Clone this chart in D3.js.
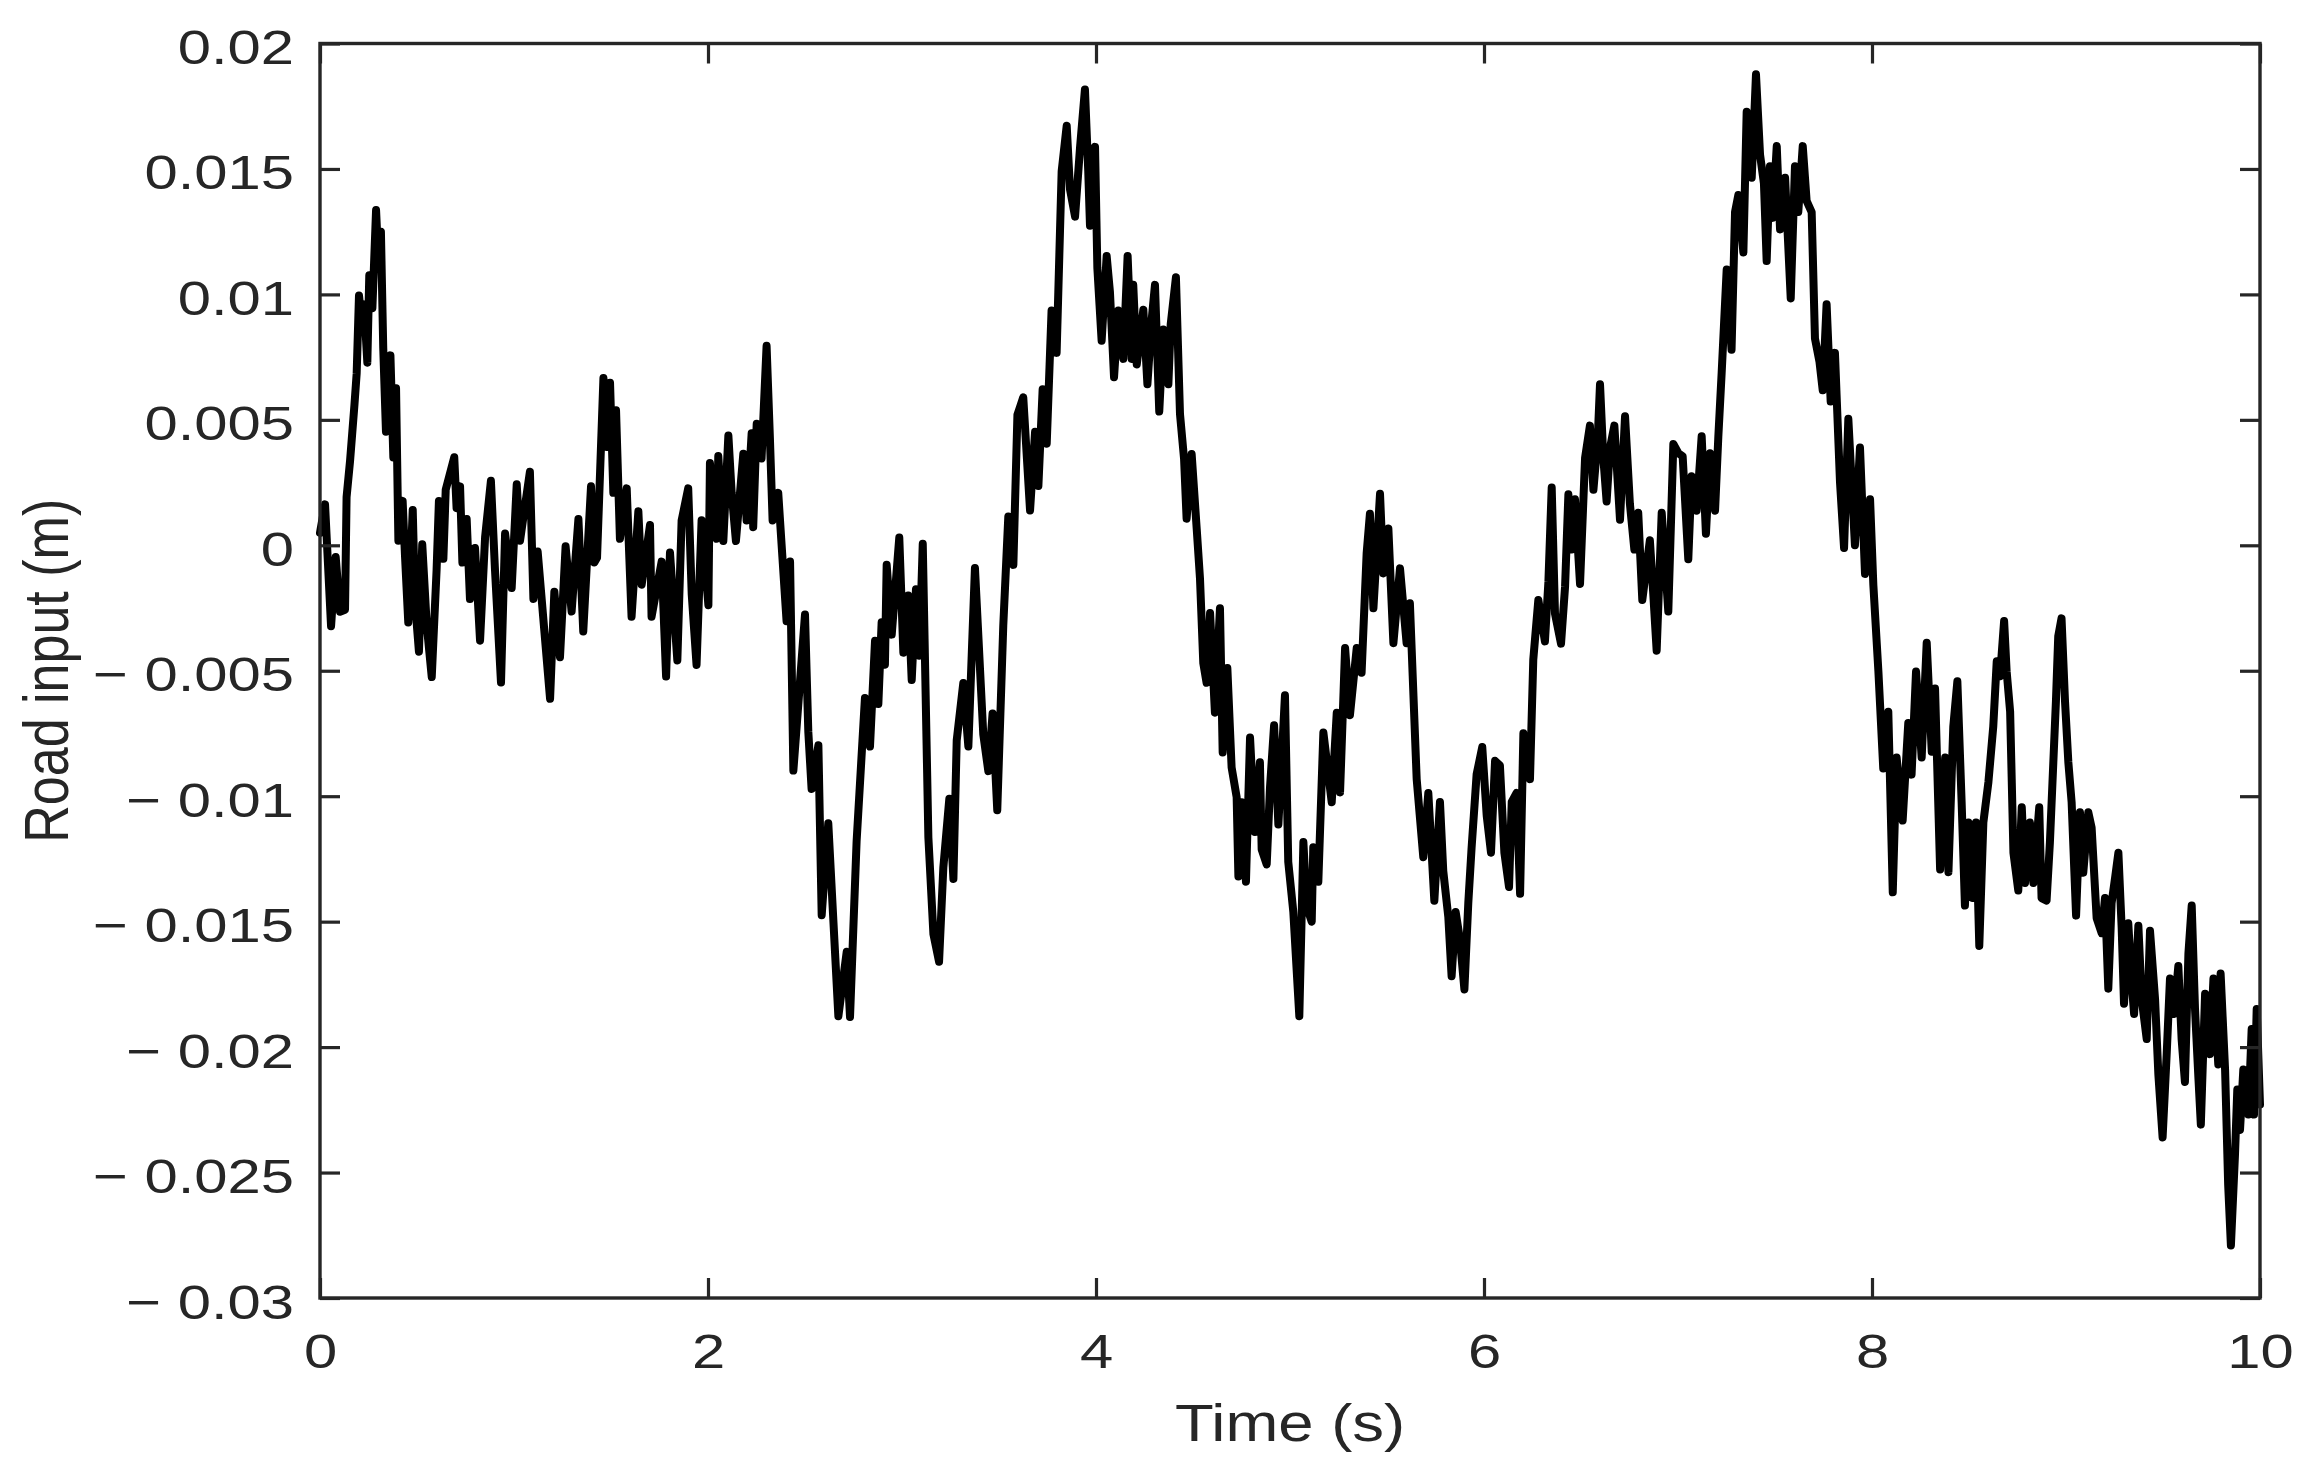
<!DOCTYPE html>
<html>
<head>
<meta charset="utf-8">
<script src="https://cdn.jsdelivr.net/npm/d3@7"></script>
<style>
  html, body { margin: 0; padding: 0; background: #fff; }
  svg { display: block; }
  text { font-family: "Liberation Sans", Arial, Helvetica, sans-serif; fill: #262626; }
</style>
</head>
<body>
<svg id="chart" width="2313" height="1470"></svg>
<script>
// ---- Data ----
const times = [
0.000,0.026,0.057,0.081,0.103,0.129,0.137,0.155,0.177,0.189,0.201,0.215,0.227,0.244,0.254,0.270,0.289,0.301,0.314,0.326,
0.340,0.363,0.378,0.392,0.404,0.426,0.438,0.455,0.478,0.490,0.510,0.527,0.550,0.576,0.601,0.613,0.636,0.648,0.692,0.704,
0.722,0.734,0.756,0.773,0.799,0.825,0.851,0.881,0.902,0.933,0.954,0.988,1.014,1.031,1.082,1.100,1.122,1.186,1.208,1.237,
1.266,1.297,1.332,1.357,1.397,1.414,1.428,
1.461,1.478,1.495,1.512,1.526,1.546,1.581,1.606,1.641,1.658,1.701,1.709,1.761,1.784,1.804,1.842,1.864,1.898,1.916,1.941,
1.967,2.002,2.010,2.045,2.053,2.079,2.105,2.122,2.144,2.182,2.199,2.225,2.233,2.251,2.276,2.302,2.319,2.333,2.362,2.405,
2.423,2.440,2.500,2.517,2.534,2.569,2.586,2.620,2.672,2.715,2.732,2.766,
2.809,2.835,2.861,2.878,2.895,2.912,2.921,2.947,2.986,3.007,3.032,3.050,3.072,3.089,3.107,3.136,3.162,3.191,3.213,3.244,
3.265,3.282,3.316,3.342,3.376,3.419,3.445,3.467,3.491,3.522,3.548,3.574,3.595,3.625,3.660,3.686,3.703,3.725,3.746,3.771,
3.797,3.823,3.849,3.866,3.892,3.918,3.943,3.960,3.969,3.995,4.007,4.029,4.055,4.072,4.093,4.115,4.141,4.163,4.184,
4.192,4.210,4.244,4.265,4.287,4.304,4.326,4.347,4.373,4.385,4.412,4.433,4.454,4.467,4.493,4.519,4.536,4.553,4.570,4.588,
4.613,4.639,4.653,4.677,4.699,4.725,4.734,4.751,4.773,4.794,4.819,4.845,4.854,4.880,4.897,4.918,4.940,4.974,4.991,5.017,
5.048,5.069,5.086,5.112,5.120,5.146,5.172,5.215,5.241,5.258,5.284,5.309,5.344,5.369,5.395,5.412,5.430,5.464,5.481,5.507,
5.533,5.567,5.601,5.618,
5.653,5.687,5.713,5.744,5.773,5.790,5.816,5.833,5.854,5.876,5.899,5.919,5.936,5.962,5.991,6.014,6.036,6.057,6.082,6.105,
6.129,6.143,6.168,6.186,6.203,6.237,6.254,6.280,6.314,6.332,6.349,6.366,6.397,6.418,6.435,6.452,6.469,6.495,6.521,6.546,
6.564,6.586,6.598,6.615,6.632,6.649,6.672,6.701,6.727,6.752,6.775,6.795,6.816,6.855,6.873,6.890,6.916,6.950,6.976,7.002,
7.024,7.053,7.070,7.096,7.122,7.144,7.165,7.191,7.208,7.225,7.251,7.276,7.294,7.311,7.337,7.354,7.380,7.402,7.423,7.443,
7.457,7.474,7.488,7.509,7.526,7.552,7.581,7.603,7.620,7.643,7.663,7.689,7.706,7.729,7.746,7.766,7.787,7.809,7.835,7.856,
7.878,7.912,7.938,7.964,7.990,8.007,8.033,8.058,8.084,8.107,8.127,8.158,8.187,8.204,8.227,8.256,8.282,8.308,8.325,8.351,
8.377,8.394,
8.419,8.440,8.462,8.479,8.497,8.519,8.536,8.553,8.574,8.600,8.625,8.643,8.660,8.681,8.694,8.712,8.729,8.754,8.772,8.789,
8.814,8.832,8.862,8.874,8.900,8.917,8.948,8.960,8.977,8.995,9.012,9.029,9.052,9.072,9.089,9.115,9.132,9.158,9.184,9.201,
9.218,9.235,9.253,9.270,9.287,9.299,9.321,9.339,9.351,9.373,9.390,9.416,9.433,9.459,9.476,9.498,9.519,9.536,9.557,9.579,
9.596,9.613,9.631,9.648,9.665,9.683,9.695,9.717,9.742,9.760,9.785,9.797,9.820,9.836,9.850,9.871,9.883,9.897,9.914,9.940,
9.957,9.969,9.983,10.000
];

const roadInput = [
0.00050,0.00163,-0.00323,-0.00047,-0.00265,-0.00257,0.00192,0.00337,0.00554,0.00685,0.00996,0.00887,0.00960,0.00728,0.01076,0.00945,0.01336,0.01134,0.01250,0.00786,
0.00453,0.00757,0.00350,0.00626,0.00018,0.00177,-0.00040,-0.00308,0.00141,-0.00228,-0.00424,0.00004,-0.00315,-0.00525,-0.00098,0.00177,-0.00054,0.00221,0.00351,0.00148,
0.00235,-0.00069,0.00105,-0.00214,-0.00011,-0.00380,0.00032,0.00257,-0.00098,-0.00547,0.00047,-0.00170,0.00243,0.00018,0.00293,-0.00214,-0.00025,-0.00612,-0.00185,-0.00446,
-0.00004,-0.00264,0.00105,-0.00344,0.00235,-0.00069,-0.00050,
0.00667,0.00392,0.00648,0.00209,0.00538,0.00026,0.00227,-0.00285,0.00136,-0.00157,0.00081,-0.00285,-0.00065,-0.00523,-0.00029,-0.00459,0.00099,0.00227,-0.00194,-0.00477,
0.00100,-0.00239,0.00328,0.00026,0.00356,0.00017,0.00438,0.00209,0.00017,0.00365,0.00099,0.00447,0.00072,0.00484,0.00346,0.00795,0.00429,0.00099,0.00209,-0.00303,
-0.00065,-0.00898,-0.00276,-0.00742,-0.00971,-0.00797,-0.01474,-0.01108,-0.01877,-0.01620,-0.01880,-0.01180,
-0.00609,-0.00802,-0.00380,-0.00633,-0.00307,-0.00476,-0.00078,-0.00356,0.00031,-0.00428,-0.00200,-0.00537,-0.00175,-0.00440,0.00006,-0.01165,-0.01550,-0.01660,-0.01285,-0.01010,
-0.01330,-0.00778,-0.00549,-0.00802,-0.00090,-0.00754,-0.00900,-0.00670,-0.01056,-0.00320,0.00115,-0.00078,0.00520,0.00590,0.00139,0.00453,0.00236,0.00622,0.00405,0.00936,
0.00767,0.01491,0.01672,0.01419,0.01310,0.01588,0.01817,0.01491,0.01274,0.01588,0.01105,0.00815,0.01153,0.01008,0.00670,0.00936,0.00743,0.01153,0.00743,
0.01038,0.00721,0.00939,0.00642,0.00899,0.01038,0.00533,0.00860,0.00642,0.00880,0.01068,0.00523,0.00344,0.00106,0.00364,0.00067,-0.00132,-0.00469,-0.00548,-0.00270,
-0.00667,-0.00251,-0.00826,-0.00489,-0.00885,-0.01004,-0.01320,-0.01024,-0.01341,-0.00766,-0.01143,-0.00865,-0.01212,-0.01272,-0.00964,-0.00717,-0.01113,-0.00598,-0.01262,-0.01460,
-0.01877,-0.01183,-0.01440,-0.01500,-0.01203,-0.01341,-0.00746,-0.01024,-0.00667,-0.00985,-0.00409,-0.00677,-0.00409,-0.00508,-0.00033,0.00126,-0.00251,0.00205,-0.00112,0.00067,
-0.00390,-0.00092,-0.00390,-0.00231,
-0.00932,-0.01243,-0.00987,-0.01417,-0.01023,-0.01298,-0.01481,-0.01718,-0.01462,-0.01572,-0.01770,-0.01426,-0.01206,-0.00913,-0.00804,-0.01078,-0.01225,-0.00859,-0.00877,-0.01225,
-0.01362,-0.01023,-0.00987,-0.01389,-0.00749,-0.00932,-0.00456,-0.00218,-0.00383,-0.00145,0.00230,-0.00273,-0.00392,-0.00163,0.00203,-0.00017,0.00184,-0.00154,0.00349,0.00477,
0.00221,0.00422,0.00642,0.00349,0.00175,0.00386,0.00477,0.00102,0.00514,0.00166,-0.00017,0.00130,-0.00218,0.00020,-0.00200,-0.00420,0.00130,-0.00264,0.00404,0.00367,
0.00355,-0.00056,0.00275,0.00138,0.00435,0.00046,0.00367,0.00138,0.00435,0.00687,0.01099,0.00779,0.01328,0.01396,0.01167,0.01728,0.01465,0.01877,0.01556,0.01442,
0.01133,0.01511,0.01305,0.01591,0.01259,0.01465,0.00984,0.01511,0.01328,0.01591,0.01373,0.01328,0.00824,0.00733,0.00618,0.00961,0.00573,0.00767,0.00252,-0.00011,
0.00504,0.00000,0.00390,-0.00114,0.00184,-0.00159,-0.00503,-0.00890,-0.00663,-0.01383,-0.00846,-0.01097,-0.00708,-0.00914,-0.00503,-0.00846,-0.00388,-0.00823,-0.00571,-0.01292,
-0.00846,-0.01303,
-0.00723,-0.00542,-0.01024,-0.01436,-0.01105,-0.01406,-0.01105,-0.01597,-0.01105,-0.00944,-0.00723,-0.00462,-0.00522,-0.00302,-0.00502,-0.00663,-0.01225,-0.01376,-0.01044,-0.01346,
-0.01105,-0.01346,-0.01044,-0.01406,-0.01416,-0.01185,-0.00623,-0.00362,-0.00291,-0.00623,-0.00864,-0.01024,-0.01476,-0.01064,-0.01305,-0.01064,-0.01125,-0.01486,-0.01546,-0.01406,
-0.01767,-0.01426,-0.01325,-0.01225,-0.01526,-0.01827,-0.01506,-0.01747,-0.01868,-0.01516,-0.01807,-0.01968,-0.01536,-0.01807,-0.02108,-0.02360,-0.02028,-0.01727,-0.01868,-0.01677,
-0.01968,-0.02139,-0.01627,-0.01436,-0.01848,-0.02129,-0.02309,-0.01787,-0.02028,-0.01727,-0.02069,-0.01707,-0.02089,-0.02550,-0.02791,-0.02430,-0.02169,-0.02330,-0.02089,-0.02269,
-0.01928,-0.02269,-0.01848,-0.02229
];

const xTickValues = [0, 2, 4, 6, 8, 10];
const xTickLabels = ["0", "2", "4", "6", "8", "10"];
const yTickValues = [0.02, 0.015, 0.01, 0.005, 0, -0.005, -0.01, -0.015, -0.02, -0.025, -0.03];
const yTickLabels = ["0.02", "0.015", "0.01", "0.005", "0", "\u2212 0.005", "\u2212 0.01", "\u2212 0.015", "\u2212 0.02", "\u2212 0.025", "\u2212 0.03"];
const xTitle = "Time (s)";
const yTitle = "Road input (m)";

// ---- Layout ----
const L = 320, R = 2260, T = 43.5, B = 1298;
const axisColor = "#262626";
const stretch = 1.22;     // reference text is horizontally stretched
const tickLen = 20;

const svg = d3.select("#chart");
const x = d3.scaleLinear().domain([0, 10]).range([L, R]);
const y = d3.scaleLinear().domain([-0.03, 0.02]).range([B, T]);

const data = times.map((t, i) => ({ t, v: roadInput[i] }));

// data line
const line = d3.line().x(d => x(d.t)).y(d => y(d.v));
svg.append("path")
  .datum(data)
  .attr("d", line)
  .attr("fill", "none")
  .attr("stroke", "#000")
  .attr("stroke-width", 8)
  .attr("stroke-linejoin", "round")
  .attr("stroke-linecap", "round");

// axes
function styleAxis(g) {
  g.select(".domain").remove();
  g.selectAll(".tick line").attr("stroke", axisColor).attr("stroke-width", 3.2);
}

const yLabelMap = new Map(yTickValues.map((v, i) => [v, yTickLabels[i]]));
const xLabelMap = new Map(xTickValues.map((v, i) => [v, xTickLabels[i]]));

const gLeft = svg.append("g").attr("transform", `translate(${L},0)`)
  .call(d3.axisLeft(y).tickValues(yTickValues).tickSizeInner(-tickLen).tickSizeOuter(0)
    .tickPadding(26).tickFormat(d => yLabelMap.get(d)));
styleAxis(gLeft);
gLeft.selectAll(".tick text")
  .attr("x", null).attr("dy", null).attr("y", 20)
  .attr("transform", `translate(-26,0) scale(${stretch},1)`)
  .attr("text-anchor", "end")
  .style("font-size", "49px")
  .attr("fill", axisColor);

const gRight = svg.append("g").attr("transform", `translate(${R},0)`)
  .call(d3.axisRight(y).tickValues(yTickValues).tickSizeInner(-tickLen).tickSizeOuter(0).tickFormat(""));
styleAxis(gRight);

const gBottom = svg.append("g").attr("transform", `translate(0,${B})`)
  .call(d3.axisBottom(x).tickValues(xTickValues).tickSizeInner(-tickLen).tickSizeOuter(0)
    .tickFormat(d => xLabelMap.get(d)));
styleAxis(gBottom);
gBottom.selectAll(".tick text")
  .attr("y", null).attr("dy", null)
  .attr("transform", `translate(0,70) scale(${stretch},1)`)
  .attr("text-anchor", "middle")
  .style("font-size", "49px")
  .attr("fill", axisColor);

const gTop = svg.append("g").attr("transform", `translate(0,${T})`)
  .call(d3.axisTop(x).tickValues(xTickValues).tickSizeInner(-tickLen).tickSizeOuter(0).tickFormat(""));
styleAxis(gTop);

// box
svg.append("rect")
  .attr("x", L).attr("y", T).attr("width", R - L).attr("height", B - T)
  .attr("fill", "none").attr("stroke", axisColor).attr("stroke-width", 3.4);

// axis titles
svg.append("text")
  .attr("transform", `translate(${(L + R) / 2},1441) scale(${stretch},1)`)
  .attr("text-anchor", "middle")
  .style("font-size", "52px")
  .attr("fill", axisColor)
  .text(xTitle);

svg.append("text")
  .attr("transform", `translate(68,${(T + B) / 2}) scale(${stretch},1) rotate(-90)`)
  .attr("text-anchor", "middle")
  .style("font-size", "52px")
  .attr("fill", axisColor)
  .text(yTitle);
</script>
</body>
</html>
